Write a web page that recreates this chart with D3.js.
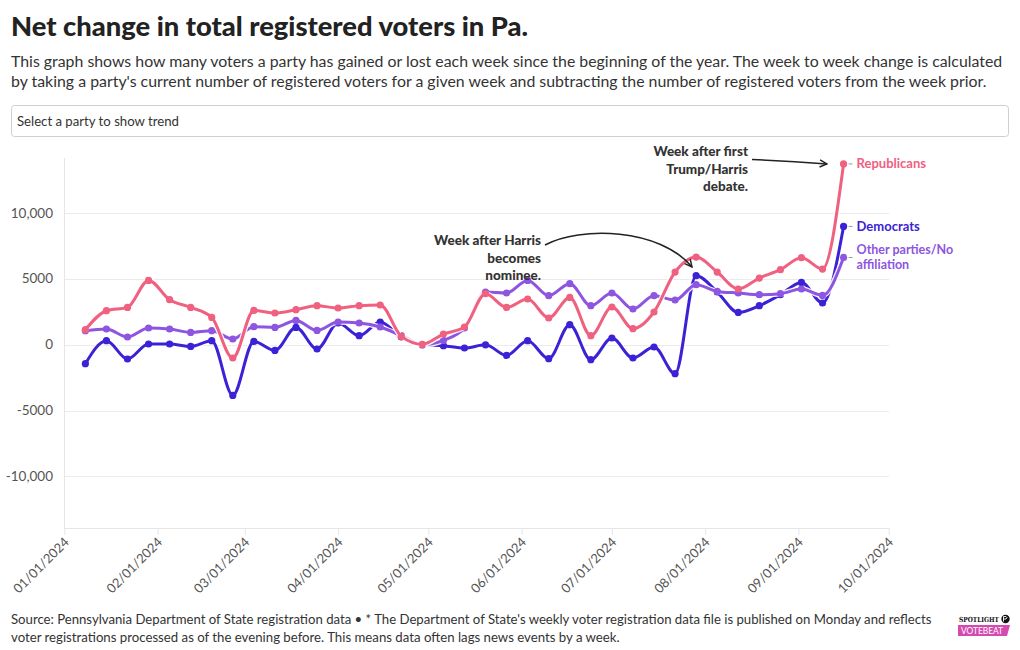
<!DOCTYPE html>
<html><head><meta charset="utf-8">
<script src="https://cdn.jsdelivr.net/npm/d3@7"></script>
<style>
html,body{margin:0;padding:0;background:#fff;}
svg{display:block;font-family:Lato,"Noto Sans",sans-serif;}
</style></head>
<body>
<svg id="chart" width="1020" height="650"></svg>
<script>
// ---------- data ----------
const dates = ["2024-01-08","2024-01-15","2024-01-22","2024-01-29","2024-02-05","2024-02-12","2024-02-19","2024-02-26",
"2024-03-04","2024-03-11","2024-03-18","2024-03-25","2024-04-01","2024-04-08","2024-04-15","2024-04-22","2024-04-29",
"2024-05-06","2024-05-13","2024-05-20","2024-05-27","2024-06-03","2024-06-10","2024-06-17","2024-06-24",
"2024-07-01","2024-07-08","2024-07-15","2024-07-22","2024-07-29","2024-08-05","2024-08-12","2024-08-19","2024-08-26",
"2024-09-02","2024-09-09","2024-09-16"];
const republicans = [1140,2584,2834,4886,3419,2834,2074,-1011,2606,2409,2660,2964,2789,2964,3017,631,30,
813,1345,3875,2834,3473,2029,3594,684,2865,1216,2485,5524,6664,5524,4233,5068,5699,6611,5752,13740];
const democrats = [-1444,304,-1087,53,53,-129,304,-3853,251,-433,1315,-327,1649,684,1725,585,0,
-76,-251,-10,-813,304,-1064,1520,-1140,509,-1011,-175,-2204,5243,4005,2454,2964,3799,4734,3169,8990];
const others = [1064,1193,585,1269,1193,935,1064,433,1370,1315,1847,1087,1725,1649,1345,684,0,
327,1269,4005,3929,4886,3723,4635,2964,3929,2713,3723,3397,4559,4050,3929,3799,3875,4233,3746,6630];
const seriesNames = ["Democrats","Other parties/No affiliation","Republicans"];
const seriesColors = ["#3b22d6","#8d55e0","#f0607f"];
const yTicks = [-10000,-5000,0,5000,10000];
const yTickLabels = ["-10,000","-5000","0","5000","10,000"];
const xDomain = ["2024-01-01","2024-10-01"];

const title = "Net change in total registered voters in Pa.";
const subtitle = ["This graph shows how many voters a party has gained or lost each week since the beginning of the year. The week to week change is calculated",
"by taking a party's current number of registered voters for a given week and subtracting the number of registered voters from the week prior."];
const footer = ["Source: Pennsylvania Department of State registration data \u2022 * The Department of State's weekly voter registration data file is published on Monday and reflects",
"voter registrations processed as of the evening before. This means data often lags news events by a week."];

// ---------- setup ----------
const svg = d3.select("#chart");
const parse = d3.utcParse("%Y-%m-%d");
const x = d3.scaleUtc().domain(xDomain.map(parse)).range([64.3, 888.7]);
const y = d3.scaleLinear().domain([-13930, 14190]).range([528, 158]);

function fit(sel, target){
  const node = sel.node();
  const fs = parseFloat(sel.attr("font-size"));
  const w = node.getComputedTextLength();
  if (w > 0) sel.attr("font-size", (fs * target / w).toFixed(2));
}

// title & subtitle
fit(svg.append("text").attr("x", 11).attr("y", 36).attr("font-size", 26).attr("font-weight", 900)
  .attr("fill", "#222").text(title), 517);
subtitle.forEach((t,i)=>{
  fit(svg.append("text").attr("x", 11).attr("y", 67 + i*20).attr("font-size", 15.5).attr("fill", "#333").text(t), i===0?992:976);
});

// dropdown
svg.append("rect").attr("x", 11.5).attr("y", 105.5).attr("width", 997).attr("height", 31).attr("rx", 3)
  .attr("fill", "#fff").attr("stroke", "#cfcfcf");
fit(svg.append("text").attr("x", 17).attr("y", 126).attr("font-size", 13.5).attr("fill", "#333").text("Select a party to show trend"), 162);

// grid
const g = svg.append("g");
g.selectAll(".grid").data(yTicks).join("line")
  .attr("x1", 64).attr("x2", 889).attr("y1", d=>Math.round(y(d))+0.5).attr("y2", d=>Math.round(y(d))+0.5)
  .attr("stroke", "#ebebeb");
g.append("line").attr("x1", 64.5).attr("x2", 64.5).attr("y1", 158).attr("y2", 528).attr("stroke", "#e6e6e6");
g.append("line").attr("x1", 64).attr("x2", 889).attr("y1", 528.5).attr("y2", 528.5).attr("stroke", "#e6e6e6");

// y axis labels
g.selectAll(".ylab").data(yTicks).join("text")
  .attr("x", 53).attr("y", d=>y(d)+4.5).attr("text-anchor", "end").attr("font-size", 13.5).attr("fill", "#555")
  .text((d,i)=>yTickLabels[i]);

// x axis
const xAxis = d3.axisBottom(x).ticks(d3.utcMonth.every(1)).tickFormat(d3.utcFormat("%m/%d/%Y")).tickSize(7).tickSizeOuter(0);
const xg = svg.append("g").attr("transform", "translate(0,528)").call(xAxis);
xg.select(".domain").remove();
xg.selectAll(".tick line").attr("stroke", "#e6e6e6");
xg.selectAll(".tick text").attr("font-size", 13).attr("fill", "#555").attr("font-family", "Lato,sans-serif")
  .attr("text-anchor", "end").attr("dy", null).attr("y", 0)
  .attr("transform", "translate(5,15) rotate(-45)");

// lines
const seriesVals = [democrats, others, republicans];
const line = d3.line().x((d,i)=>x(parse(dates[i]))).y(d=>y(d)).curve(d3.curveMonotoneX);
seriesVals.forEach((vals, k)=>{
  const sg = svg.append("g");
  sg.append("path").datum(vals).attr("d", line).attr("fill", "none").attr("stroke", "#fff")
    .attr("stroke-width", 5.5).attr("stroke-linejoin", "round").attr("opacity", 0.9);
  sg.append("path").datum(vals).attr("d", line).attr("fill", "none").attr("stroke", seriesColors[k])
    .attr("stroke-width", 3).attr("stroke-linejoin", "round");
  sg.selectAll("circle").data(vals).join("circle")
    .attr("cx", (d,i)=>x(parse(dates[i]))).attr("cy", d=>y(d)).attr("r", 3.6).attr("fill", seriesColors[k]);
});

// end labels
const lastX = x(parse(dates[dates.length-1]));
const endLabels = [
  {k:0, lines:["Democrats"]},
  {k:1, lines:["Other parties/No","affiliation"]},
  {k:2, lines:["Republicans"]}
];
endLabels.forEach(l=>{
  const vals = seriesVals[l.k];
  const yy = y(vals[vals.length-1]);
  svg.append("line").attr("x1", lastX+5).attr("x2", lastX+9).attr("y1", yy).attr("y2", yy).attr("stroke", "#999");
  const n = l.lines.length;
  l.lines.forEach((t,j)=>{
    svg.append("text").attr("x", lastX+13).attr("y", yy + 4.5 + (j-(n-1)/2)*15)
      .attr("font-size", n>1?12.5:13).attr("font-weight", 700).attr("fill", seriesColors[l.k]).text(t);
  });
});

// annotations
svg.append("defs").append("marker").attr("id","arr").attr("viewBox","0 0 10 10").attr("refX",9).attr("refY",5)
  .attr("markerWidth",9).attr("markerHeight",9).attr("orient","auto-start-reverse").attr("markerUnits","userSpaceOnUse")
  .append("path").attr("d","M1,1 L9,5 L1,9").attr("fill","none").attr("stroke","#222").attr("stroke-width",1.6);

const ann1 = ["Week after first","Trump/Harris","debate."];
ann1.forEach((t,i)=>svg.append("text").attr("x",748).attr("y",156+i*17.5).attr("text-anchor","end")
  .attr("font-size",13.5).attr("font-weight",900).attr("fill","#333").text(t));
svg.append("path").attr("d","M752,159.5 Q790,161 827,164").attr("fill","none").attr("stroke","#222")
  .attr("stroke-width",1.5).attr("marker-end","url(#arr)");

const ann2 = ["Week after Harris","becomes","nominee."];
ann2.forEach((t,i)=>svg.append("text").attr("x",541).attr("y",245+i*17.5).attr("text-anchor","end")
  .attr("font-size",13.5).attr("font-weight",900).attr("fill","#333").text(t));
svg.append("path").attr("d","M545,245 C580,226 660,228 692,267").attr("fill","none").attr("stroke","#222")
  .attr("stroke-width",1.5).attr("marker-end","url(#arr)");

// footer
footer.forEach((t,i)=>{
  fit(svg.append("text").attr("x",11).attr("y",624+i*18).attr("font-size",13.5).attr("fill","#333").text(t), i===0?921:609);
});

// logo
const lg = svg.append("g");
lg.append("text").attr("x",959).attr("y",622).attr("font-size",7).attr("font-weight",900).attr("fill","#111")
  .attr("font-family","'DejaVu Serif',serif").attr("textLength",40).attr("lengthAdjust","spacingAndGlyphs").text("SPOTLIGHT");
lg.append("circle").attr("cx",1005.5).attr("cy",619).attr("r",4.2).attr("fill","#111");
lg.append("path").attr("d","M1003.5,621.5 L1003.5,616.5 L1006,616.5 Q1008,617.5 1006,619 L1003.5,619").attr("fill","none").attr("stroke","#fff").attr("stroke-width",0.9);
lg.append("path").attr("d","M958,625 L1010,625 L1007,636 L958,636 Z").attr("fill","#d64aaf");
lg.append("text").attr("x",961).attr("y",634).attr("font-size",9).attr("fill","#fff").attr("font-weight",400)
  .attr("textLength",42).attr("lengthAdjust","spacingAndGlyphs").text("VOTEBEAT");
</script>
</body></html>
